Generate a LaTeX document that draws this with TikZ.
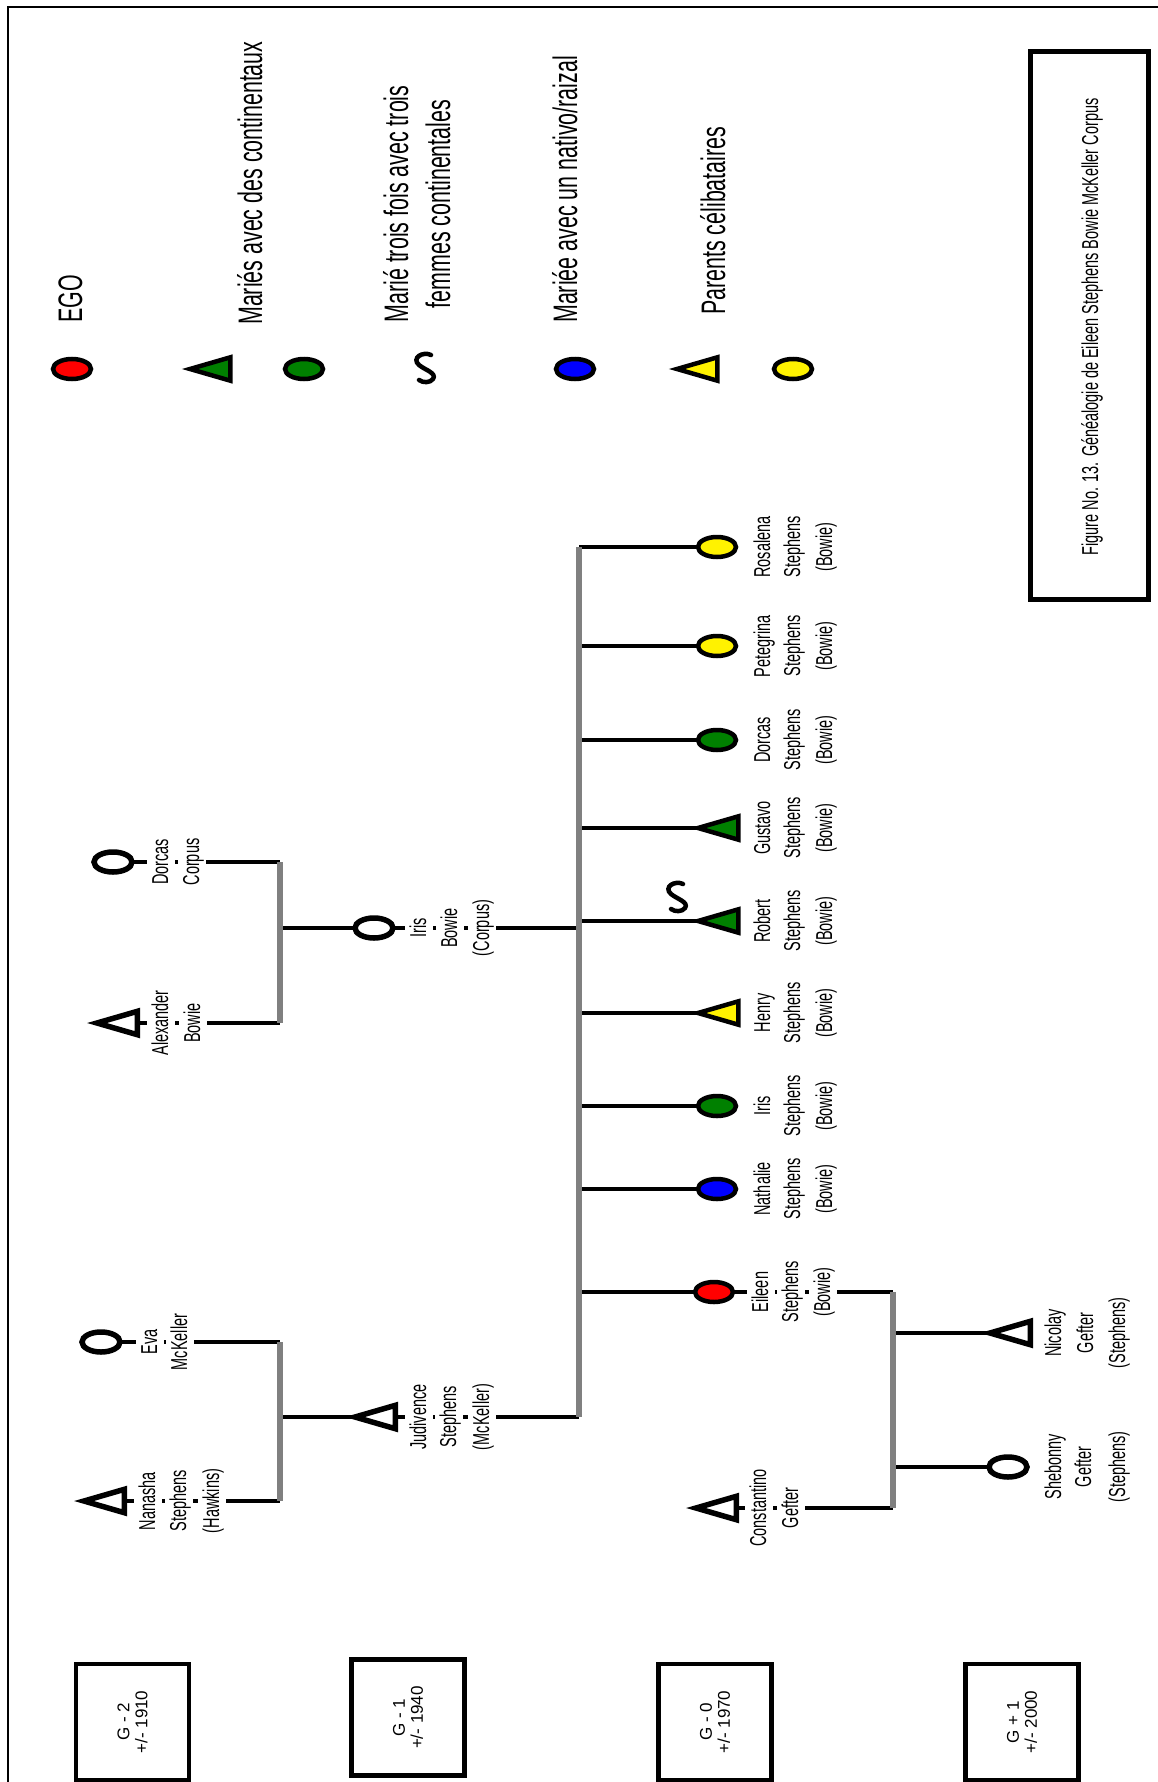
\documentclass[tikz,border=0pt]{standalone}
\usepackage{fontspec}
\setmainfont{Liberation Sans}
\newfontfamily\condfont[FakeStretch=0.63]{Liberation Sans}
\usetikzlibrary{shapes.geometric}
\pgfdeclarelayer{bg}
\pgfsetlayers{bg,main}
\definecolor{dgreen}{RGB}{0,128,0}
\definecolor{barg}{RGB}{128,128,128}
\newcommand\NameFont{\condfont\fontsize{23}{31}\selectfont}
\newcommand\LegFont{\condfont\fontsize{34}{42}\selectfont}
\newcommand\GenFont{\fontsize{17}{18}\selectfont}
\tikzset{
  trois/.pic={\draw[line width=4.5pt,line cap=round] (6,-13) .. controls (-2,-17) and (-14,-10) .. (-6,-3) .. controls (0,2) and (12,5) .. (8,11) .. controls (5,15) and (-2,15) .. (-6,12);}
}
% male symbol: invisible box node + triangle drawn on its anchors
% #1 fill, #2 line width, #3 name, #4 x, #5 y
\newcommand\male[5]{%
  \node[malebox] (#3) at (#4,#5) {};
  \draw[line width=#2,fill=#1] (#3.west) -- (#3.north east) -- (#3.south east) -- cycle;}
\begin{document}
\begin{tikzpicture}[x=1pt,y=-1pt,
  lbl/.style={rotate=90,anchor=base,font=\NameFont,fill=white,inner xsep=0pt,inner ysep=1.5pt,text height=19.5pt,text depth=5pt},
  leg/.style={rotate=90,anchor=base west,font=\LegFont,inner sep=0pt},
  legc/.style={rotate=90,anchor=base,font=\LegFont,inner sep=0pt},
  fem/.style={ellipse,draw,line width=4.5pt,minimum width=38pt,minimum height=20pt,inner sep=0pt,fill=white},
  openfem/.style={fem,line width=5.5pt},
  malebox/.style={rectangle,minimum width=40pt,minimum height=23pt,inner sep=0pt,anchor=west},
  link/.style={line width=3.5pt},
  bar/.style={line width=6pt,draw=barg},
  genbox/.style={rotate=90,draw,line width=4.5pt,minimum width=116pt,minimum height=113pt,align=center,font=\GenFont,inner sep=0pt},
  titlebox/.style={draw,line width=5pt,minimum width=118pt,minimum height=548pt,inner sep=0pt}
]
\useasboundingbox (0,0) rectangle (1158,1782);
% frame
\draw[line width=1.5pt] (8,1790) -- (8,7) -- (1170,7);

% ---------- legend ----------
\node[fem,fill=red] (lgEgo) at (72,369) {};
\node[leg] (lgEgoT) at (82,323) {EGO};
\male{dgreen}{4.5pt}{lgTriG}{190}{369}
\node[fem,fill=dgreen] (lgCirG) at (304,369) {};
\node[leg] (lgT1) at (262,325) {Mariés avec des continentaux};
\pic (lgS) at (425,368) {trois};
\node[legc] (lgT2a) at (408,204) {Marié trois fois avec trois};
\node[legc] (lgT2b) at (450,204) {femmes continentales};
\node[fem,fill=blue] (lgBlue) at (575,369) {};
\node[leg] (lgT3) at (577,323) {Mariée avec un nativo/raizal};
\male{yellow}{4.5pt}{lgTriY}{677}{369}
\node[fem,fill=yellow] (lgCirY) at (793,369) {};
\node[leg] (lgT4) at (725,315) {Parents célibataires};

% title box
\node[titlebox] (tbox) at (1089.5,325.5) {};
\node[rotate=90,anchor=base,font=\NameFont,inner sep=0pt] (title) at (1098,327) {Figure No. 13. Généalogie de Eileen Stephens Bowie McKeller Corpus};

% generation boxes
\node[genbox] (g2) at (132.5,1722) {G - 2\\+/- 1910};
\node[genbox] (g1) at (408,1717.5) {G - 1\\+/- 1940};
\node[genbox] (g0) at (715,1722) {G - 0\\+/- 1970};
\node[genbox] (gp1) at (1022,1722) {G + 1\\+/- 2000};

% ---------- people ----------
\male{white}{5.5pt}{nanasha}{84}{1501}
\node[openfem] (eva) at (101,1342) {};
\male{white}{5.5pt}{alexander}{97}{1023}
\node[openfem] (dorcasC) at (113,862) {};
\male{white}{5.5pt}{judivence}{355}{1417}
\node[openfem] (irisB) at (374,928) {};
\node[fem,fill=yellow] (rosalena) at (717,547) {};
\node[fem,fill=yellow] (petegrina) at (717,646) {};
\node[fem,fill=dgreen] (dorcasS) at (717,740) {};
\male{dgreen}{4.5pt}{gustavo}{698}{828}
\male{dgreen}{4.5pt}{robert}{698}{921}
\pic (robertS) at (677,897) {trois};
\male{yellow}{4.5pt}{henry}{698}{1013}
\node[fem,fill=dgreen] (irisS) at (717,1106) {};
\node[fem,fill=blue] (nathalie) at (717,1189) {};
\node[fem,fill=red] (eileen) at (714,1292) {};
\male{white}{5.5pt}{constantino}{696}{1508}
\male{white}{5.5pt}{nicolay}{990}{1333}
\node[openfem] (shebonny) at (1008,1467) {};

% bar coordinates
\coordinate (b1t) at (280,1342);
\coordinate (b1b) at (280,1501);
\coordinate (b1m) at (280,1417);
\coordinate (b2t) at (280,862);
\coordinate (b2b) at (280,1023);
\coordinate (b2m) at (280,928);
\coordinate (mbT) at (579,547);
\coordinate (mbB) at (579,1417);
\coordinate (mbIris) at (579,928);
\coordinate (mb2) at (579,646);
\coordinate (mb3) at (579,740);
\coordinate (mb4) at (579,828);
\coordinate (mb5) at (579,921);
\coordinate (mb6) at (579,1013);
\coordinate (mb7) at (579,1106);
\coordinate (mb8) at (579,1189);
\coordinate (mb9) at (579,1292);
\coordinate (gT) at (893,1292);
\coordinate (gB) at (893,1508);
\coordinate (gN) at (893,1333);
\coordinate (gS) at (893,1467);

\begin{pgfonlayer}{bg}
\draw[link] (nanasha.center) -- (b1b);
\draw[link] (eva.center) -- (b1t);
\draw[link] (b1m) -- (judivence.center) -- (mbB);
\draw[link] (alexander.center) -- (b2b);
\draw[link] (dorcasC.center) -- (b2t);
\draw[link] (b2m) -- (irisB.center) -- (mbIris);
\draw[link] (mbT) -- (rosalena.center);
\draw[link] (mb2) -- (petegrina.center);
\draw[link] (mb3) -- (dorcasS.center);
\draw[link] (mb4) -- (gustavo.center);
\draw[link] (mb5) -- (robert.center);
\draw[link] (mb6) -- (henry.center);
\draw[link] (mb7) -- (irisS.center);
\draw[link] (mb8) -- (nathalie.center);
\draw[link] (mb9) -- (eileen.center) -- (gT);
\draw[link] (constantino.center) -- (gB);
\draw[link] (gN) -- (nicolay.center);
\draw[link] (gS) -- (shebonny.center);
\draw[bar] (b1t) -- (b1b);
\draw[bar] (b2t) -- (b2b);
\draw[bar] (mbT) -- (mbB);
\draw[bar] (gT) -- (gB);
\end{pgfonlayer}

% ---------- labels ----------
\node[lbl] (dcL1) at (168,862) {Dorcas};
\node[lbl] (dcL2) at (199,862) {Corpus};
\node[lbl] (abL1) at (168,1023) {Alexander};
\node[lbl] (abL2) at (200,1023) {Bowie};
\node[lbl] (evL1) at (157,1342) {Eva};
\node[lbl] (evL2) at (187,1342) {McKeller};
\node[lbl] (naL1) at (155,1501) {Nanasha};
\node[lbl] (naL2) at (186,1501) {Stephens};
\node[lbl] (naL3) at (219,1501) {(Hawkins)};
\node[lbl] (ibL1) at (426,928) {Iris};
\node[lbl] (ibL2) at (457,928) {Bowie};
\node[lbl] (ibL3) at (489,928) {(Corpus)};
\node[lbl] (juL1) at (426,1417) {Judivence};
\node[lbl] (juL2) at (456,1417) {Stephens};
\node[lbl] (juL3) at (489,1417) {(McKeller)};
% children
\node[lbl] (roL1) at (770,547) {Rosalena};
\node[lbl] (roL2) at (800,547) {Stephens};
\node[lbl] (roL3) at (832,547) {(Bowie)};
\node[lbl] (peL1) at (770,646) {Petegrina};
\node[lbl] (peL2) at (800,646) {Stephens};
\node[lbl] (peL3) at (832,646) {(Bowie)};
\node[lbl] (dsL1) at (770,740) {Dorcas};
\node[lbl] (dsL2) at (800,740) {Stephens};
\node[lbl] (dsL3) at (832,740) {(Bowie)};
\node[lbl] (guL1) at (770,828) {Gustavo};
\node[lbl] (guL2) at (800,828) {Stephens};
\node[lbl] (guL3) at (832,828) {(Bowie)};
\node[lbl] (rbL1) at (770,921) {Robert};
\node[lbl] (rbL2) at (800,921) {Stephens};
\node[lbl] (rbL3) at (832,921) {(Bowie)};
\node[lbl] (heL1) at (770,1013) {Henry};
\node[lbl] (heL2) at (800,1013) {Stephens};
\node[lbl] (heL3) at (832,1013) {(Bowie)};
\node[lbl] (isL1) at (770,1106) {Iris};
\node[lbl] (isL2) at (800,1106) {Stephens};
\node[lbl] (isL3) at (832,1106) {(Bowie)};
\node[lbl] (ntL1) at (770,1189) {Nathalie};
\node[lbl] (ntL2) at (800,1189) {Stephens};
\node[lbl] (ntL3) at (832,1189) {(Bowie)};
\node[lbl] (eiL1) at (768,1292) {Eileen};
\node[lbl] (eiL2) at (798,1292) {Stephens};
\node[lbl] (eiL3) at (830,1292) {(Bowie)};
\node[lbl] (coL1) at (766,1508) {Constantino};
\node[lbl] (coL2) at (798,1508) {Gefter};
\node[lbl] (niL1) at (1061,1333) {Nicolay};
\node[lbl] (niL2) at (1093,1333) {Gefter};
\node[lbl] (niL3) at (1125,1333) {(Stephens)};
\node[lbl] (shL1) at (1061,1467) {Shebonny};
\node[lbl] (shL2) at (1091,1467) {Gefter};
\node[lbl] (shL3) at (1125,1467) {(Stephens)};
\end{tikzpicture}
\end{document}
